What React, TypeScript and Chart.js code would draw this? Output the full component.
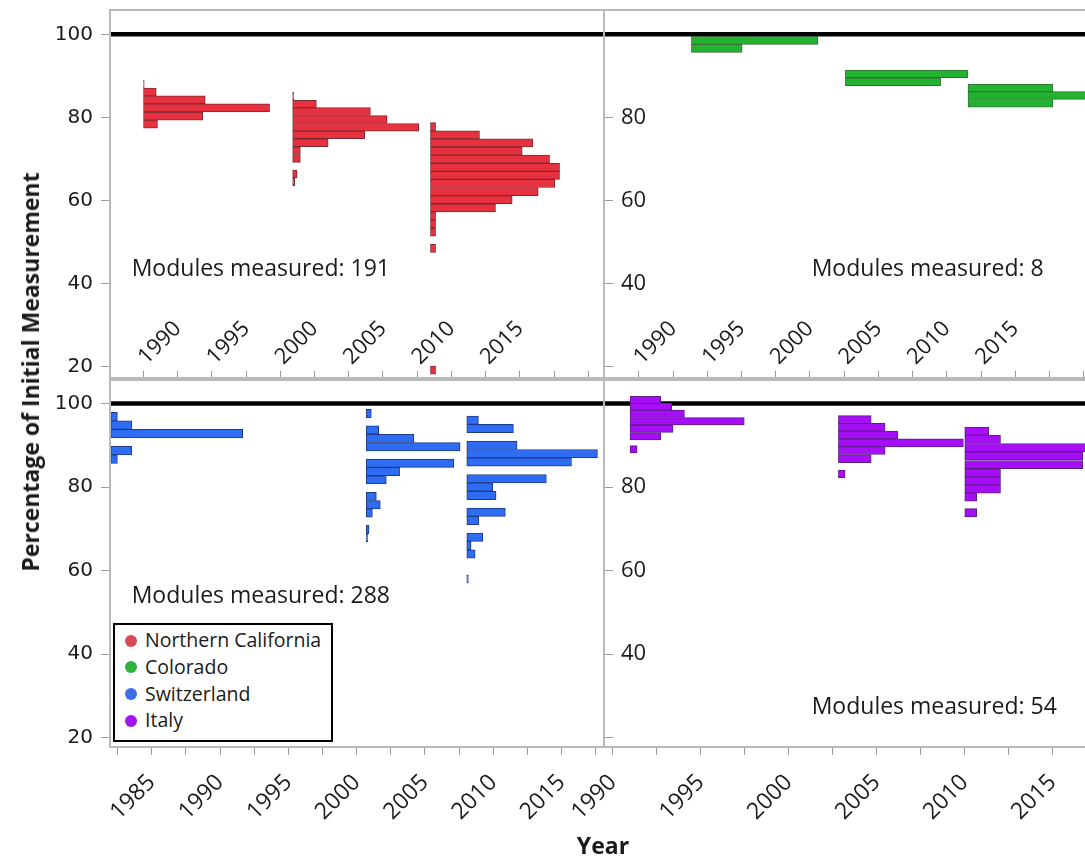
import React, { useEffect, useRef } from 'react';
import { Chart, registerables } from 'chart.js';

Chart.register(...registerables);

// Each histogram: start year, bin width (%), bin centres (%), bar lengths (years on the axis)

// Northern California
const ncStarts = [1987.5, 1998.4, 2008.47];
const ncBinWidths = [1.93, 1.875, 1.95];
const nc1Centers = [88.0, 86.1, 84.2, 82.3, 80.3, 78.4];
const nc1Lengths = [0.05, 0.93, 4.51, 9.21, 4.33, 1.02];
const nc2Centers = [85.1, 83.2, 81.4, 79.5, 77.6, 75.8, 73.9, 72.0, 70.1, 66.4, 64.5];
const nc2Lengths = [0.07, 1.73, 5.68, 6.9, 9.21, 5.26, 2.59, 0.56, 0.56, 0.32, 0.15];
const nc3Centers = [77.75, 75.8, 73.85, 71.9, 69.95, 68.0, 66.05, 64.1, 62.15, 60.2, 58.25, 56.3, 54.35, 52.4, 48.5, 19.2];
const nc3Lengths = [0.37, 3.58, 7.48, 6.7, 8.7, 9.43, 9.43, 9.09, 7.87, 5.97, 4.75, 0.37, 0.37, 0.37, 0.37, 0.37];

// Colorado
const coStarts = [1991.34, 2002.59, 2011.55];
const coBinWidths = [1.93, 1.87, 1.87];
const co1Centers = [98.55, 96.6];
const co1Lengths = [9.25, 3.7];
const co2Centers = [90.48, 88.59];
const co2Lengths = [8.96, 6.96];
const co3Centers = [87.11, 85.27, 83.37];
const co3Lengths = [6.21, 9.5, 6.21];

// Switzerland
const chStarts = [1982.0, 2000.71, 2008.06];
const chBinWidths = [2.04, 1.98, 2.0];
const ch1Centers = [96.87, 94.83, 92.79, 88.72, 86.68];
const ch1Lengths = [0.49, 1.55, 9.66, 1.55, 0.49];
const ch2Centers = [97.6, 93.65, 91.65, 89.66, 85.71, 83.72, 81.73, 77.77, 75.78, 73.81, 69.83, 67.87];
const ch2Lengths = [0.36, 0.9, 3.48, 6.86, 6.4, 2.43, 1.46, 0.73, 1.02, 0.44, 0.2, 0.11];
const ch3Centers = [96, 94, 90, 88, 86, 82, 80, 78, 74, 72, 68, 66, 64, 58];
const ch3Lengths = [0.85, 3.41, 3.67, 9.56, 7.66, 5.82, 1.9, 2.14, 2.82, 0.88, 1.17, 0.31, 0.61, 0.11];

// Italy
const itStarts = [1990.98, 2002.82, 2010.0];
const itBinWidths = [1.73, 1.88, 1.96];
const it1Centers = [100.84, 99.23, 97.55, 95.76, 93.96, 92.16, 89.04];
const it1Lengths = [1.74, 2.37, 3.09, 6.49, 2.44, 1.74, 0.4];
const it2Centers = [96.16, 94.32, 92.45, 90.58, 88.73, 86.81, 83.14];
const it2Lengths = [1.86, 2.65, 3.37, 7.1, 2.65, 1.86, 0.38];
const it3Centers = [93.36, 91.44, 89.45, 87.46, 85.37, 83.38, 81.46, 79.54, 77.63, 73.86];
const it3Lengths = [1.36, 2.03, 8.0, 6.7, 6.7, 2.03, 2.03, 2.03, 0.68, 0.68];

const regions = ['Northern California', 'Colorado', 'Switzerland', 'Italy'];
const modulesMeasured = [191, 8, 288, 54];
const referenceLevel = 100;

const yTicks = [20, 40, 60, 80, 100];
const topYearTicks = [1987.5, 1990, 1992.5, 1995, 1997.5, 2000, 2002.5, 2005, 2007.5, 2010, 2012.5, 2015, 2017.5, 2020];
const topYearLabels = [1990, 1995, 2000, 2005, 2010, 2015];
const swissYearTicks = [1982.5, 1985, 1987.5, 1990, 1992.5, 1995, 1997.5, 2000, 2002.5, 2005, 2007.5, 2010, 2012.5, 2015, 2017.5];
const swissYearLabels = [1985, 1990, 1995, 2000, 2005, 2010, 2015];
const italyYearTicks = [1990, 1992.5, 1995, 1997.5, 2000, 2002.5, 2005, 2007.5, 2010, 2012.5, 2015, 2017.5];
const italyYearLabels = [1990, 1995, 2000, 2005, 2010, 2015];

const fills = ['#e8313f', '#22b431', '#2e6cf3', '#a50ef6'];
const edges = ['#7a2a33', '#3d6a3d', '#1d3a86', '#5b1d85'];
const dots = ['#d94a55', '#2db33d', '#3c6fe6', '#a116f0'];

type Hist = { start: number; bin: number; centers: number[]; lengths: number[] };
type Box = { left: number; top: number; right: number; bottom: number };

const CANVAS_W = 1100;
const CANVAS_H = 858;
const FRAME = '#b9b9b9';
const TICK = '#9a9a9a';
const INK = '#1a1a1a';

const hist = (start: number, bin: number, centers: number[], lengths: number[]): Hist => ({ start, bin, centers, lengths });

const ncHists = [
  hist(ncStarts[0], ncBinWidths[0], nc1Centers, nc1Lengths),
  hist(ncStarts[1], ncBinWidths[1], nc2Centers, nc2Lengths),
  hist(ncStarts[2], ncBinWidths[2], nc3Centers, nc3Lengths),
];
const coHists = [
  hist(coStarts[0], coBinWidths[0], co1Centers, co1Lengths),
  hist(coStarts[1], coBinWidths[1], co2Centers, co2Lengths),
  hist(coStarts[2], coBinWidths[2], co3Centers, co3Lengths),
];
const chHists = [
  hist(chStarts[0], chBinWidths[0], ch1Centers, ch1Lengths),
  hist(chStarts[1], chBinWidths[1], ch2Centers, ch2Lengths),
  hist(chStarts[2], chBinWidths[2], ch3Centers, ch3Lengths),
];
const itHists = [
  hist(itStarts[0], itBinWidths[0], it1Centers, it1Lengths),
  hist(itStarts[1], itBinWidths[1], it2Centers, it2Lengths),
  hist(itStarts[2], itBinWidths[2], it3Centers, it3Lengths),
];

const framePlugin = {
  id: 'panelFrame',
  afterDraw(chart: any) {
    const { left, top, right, bottom } = chart.chartArea;
    const ctx = chart.ctx;
    ctx.save();
    ctx.strokeStyle = FRAME;
    ctx.lineWidth = 2;
    ctx.strokeRect(left, top, right - left, bottom - top);
    ctx.restore();
  },
};

type PanelSpec = {
  hists: Hist[];
  fill: string;
  edge: string;
  area: Box;
  xRange: [number, number];
  yRange: [number, number];
  xTicks: number[];
  xLabels: number[];
  inner: boolean; // y labels drawn inside the frame
  upper: boolean; // year labels drawn inside the frame
};

const UPPER_YEAR_FONT = 22;
const LOWER_YEAR_FONT = 23;

function makeConfig(p: PanelSpec): any {
  const xAxisHeight = p.upper ? 1 : 80;
  const datasets: any[] = p.hists.map((h) => ({
    type: 'bar',
    indexAxis: 'y',
    data: h.centers.map((c, i) => ({ y: c, x: [h.start, h.start + h.lengths[i]] })),
    backgroundColor: p.fill,
    borderColor: p.edge,
    borderWidth: 1,
    borderSkipped: false,
    grouped: false,
    barThickness: (ctx: any) => {
      const s = ctx.chart.scales.y;
      return Math.abs(s.getPixelForValue(0) - s.getPixelForValue(h.bin));
    },
    order: 1,
  }));
  datasets.push({
    type: 'line',
    data: [
      { x: p.xRange[0], y: referenceLevel },
      { x: p.xRange[1], y: referenceLevel },
    ],
    borderColor: '#000',
    borderWidth: 4.5,
    pointRadius: 0,
    order: 5,
  });

  const yearFont = p.upper ? UPPER_YEAR_FONT : LOWER_YEAR_FONT;

  return {
    type: 'bar',
    data: { datasets },
    plugins: [framePlugin],
    options: {
      animation: false,
      responsive: false,
      indexAxis: 'y',
      events: [],
      layout: {
        padding: {
          left: p.inner ? p.area.left - 1 : 0,
          top: p.area.top,
          right: CANVAS_W - p.area.right,
          bottom: CANVAS_H - p.area.bottom - xAxisHeight,
        },
      },
      plugins: { legend: { display: false }, tooltip: { enabled: false }, title: { display: false } },
      scales: {
        x: {
          type: 'linear',
          position: 'bottom',
          min: p.xRange[0],
          max: p.xRange[1],
          afterBuildTicks: (s: any) => {
            s.ticks = p.xTicks.map((v) => ({ value: v }));
          },
          afterFit: (s: any) => {
            s.height = xAxisHeight;
            s.paddingLeft = 0;
            s.paddingRight = 0;
            s.paddingTop = 0;
            s.paddingBottom = 0;
          },
          grid: { drawOnChartArea: false, drawTicks: true, tickLength: p.upper ? -7 : 8, color: TICK, offset: false },
          border: { display: false },
          ticks: {
            mirror: p.upper,
            padding: p.upper ? 43.5 : 14,
            labelOffset: p.upper ? yearFont * 1.2 * Math.SQRT1_2 : 0,
            minRotation: 45,
            maxRotation: 45,
            autoSkip: false,
            color: INK,
            font: { family: 'Open Sans', size: yearFont },
            callback: (v: any) => (p.xLabels.includes(Number(v)) ? String(v) : ''),
          },
        },
        y: {
          type: 'linear',
          position: 'left',
          min: p.yRange[0],
          max: p.yRange[1],
          offset: false,
          afterBuildTicks: (s: any) => {
            s.ticks = yTicks.map((v) => ({ value: v }));
          },
          afterFit: (s: any) => {
            s.width = p.inner ? 1 : p.area.left;
            s.paddingTop = 0;
            s.paddingBottom = 0;
            s.paddingLeft = 0;
            s.paddingRight = 0;
          },
          grid: { drawOnChartArea: false, drawTicks: true, tickLength: p.inner ? -9 : 9, color: TICK, offset: false },
          border: { display: false },
          ticks: {
            mirror: p.inner,
            padding: p.inner ? 17 : 8,
            color: INK,
            font: p.inner ? { family: 'Open Sans', size: 22 } : { family: 'DejaVu Sans', size: 20 },
            callback: (v: any) => (p.inner && (v === 100 || v === 20) ? '' : String(v)),
          },
        },
      },
    },
  };
}

const panelSpecs: PanelSpec[] = [
  {
    hists: ncHists, fill: fills[0], edge: edges[0],
    area: { left: 110, top: 10, right: 604, bottom: 378 },
    xRange: [1985.05, 2021.15], yRange: [17.28, 105.85],
    xTicks: topYearTicks, xLabels: topYearLabels, inner: false, upper: true,
  },
  {
    hists: coHists, fill: fills[1], edge: edges[1],
    area: { left: 604, top: 10, right: 1098, bottom: 378 },
    xRange: [1984.95, 2021.05], yRange: [17.28, 105.85],
    xTicks: topYearTicks, xLabels: topYearLabels, inner: true, upper: true,
  },
  {
    hists: chHists, fill: fills[2], edge: edges[2],
    area: { left: 110, top: 380, right: 604, bottom: 747 },
    xRange: [1981.95, 2018.1], yRange: [17.78, 105.63],
    xTicks: swissYearTicks, xLabels: swissYearLabels, inner: false, upper: false,
  },
  {
    hists: itHists, fill: fills[3], edge: edges[3],
    area: { left: 604, top: 380, right: 1098, bottom: 747 },
    xRange: [1989.5, 2017.57], yRange: [17.78, 105.63],
    xTicks: italyYearTicks, xLabels: italyYearLabels, inner: true, upper: false,
  },
];

function Panel({ spec }: { spec: PanelSpec }) {
  const ref = useRef<HTMLCanvasElement>(null);
  useEffect(() => {
    const chart = new Chart(ref.current as HTMLCanvasElement, makeConfig(spec));
    return () => chart.destroy();
  }, [spec]);
  return (
    <canvas
      ref={ref}
      width={CANVAS_W}
      height={CANVAS_H}
      style={{ position: 'absolute', left: 0, top: 0, width: CANVAS_W, height: CANVAS_H }}
    />
  );
}

const countPositions = [
  { left: 131.7, top: 256 },
  { left: 811.7, top: 256 },
  { left: 131.7, top: 582.7 },
  { left: 811.7, top: 694.3 },
];

export default function App() {
  return (
    <div
      style={{
        position: 'absolute', left: 0, top: 0, width: 1085, height: 858,
        overflow: 'hidden', background: '#fff', fontFamily: '"Open Sans", sans-serif', color: INK,
      }}
    >
      {panelSpecs.map((s, i) => (
        <Panel key={i} spec={s} />
      ))}

      {modulesMeasured.map((n, i) => (
        <div
          key={'m' + i}
          style={{
            position: 'absolute', left: countPositions[i].left, top: countPositions[i].top,
            fontSize: 23, lineHeight: '23px', whiteSpace: 'nowrap',
          }}
        >
          {`Modules measured: ${n}`}
        </div>
      ))}

      <div
        style={{
          position: 'absolute', left: 112.7, top: 623.3, width: 220.6, height: 119,
          boxSizing: 'border-box', border: '2px solid #000', background: '#fff', paddingTop: 2,
        }}
      >
        {regions.map((r, i) => (
          <div key={r} style={{ position: 'relative', height: 26.7 }}>
            <span
              style={{
                position: 'absolute', left: 10.3, top: 7.35, width: 12, height: 12,
                borderRadius: '50%', background: dots[i],
              }}
            />
            <span
              style={{
                position: 'absolute', left: 30.3, top: 0, fontSize: 19.5, lineHeight: '26.7px', whiteSpace: 'nowrap',
              }}
            >
              {r}
            </span>
          </div>
        ))}
      </div>

      <div
        style={{
          position: 'absolute', left: 30, top: 372, transform: 'translate(-50%, -50%) rotate(-90deg)',
          fontWeight: 700, fontSize: 23, whiteSpace: 'nowrap', lineHeight: '28px',
        }}
      >
        Percentage of Initial Measurement
      </div>
      <div
        style={{
          position: 'absolute', left: 603, top: 845, transform: 'translate(-50%, -50%)',
          fontWeight: 700, fontSize: 23, whiteSpace: 'nowrap', lineHeight: '28px',
        }}
      >
        Year
      </div>
    </div>
  );
}
